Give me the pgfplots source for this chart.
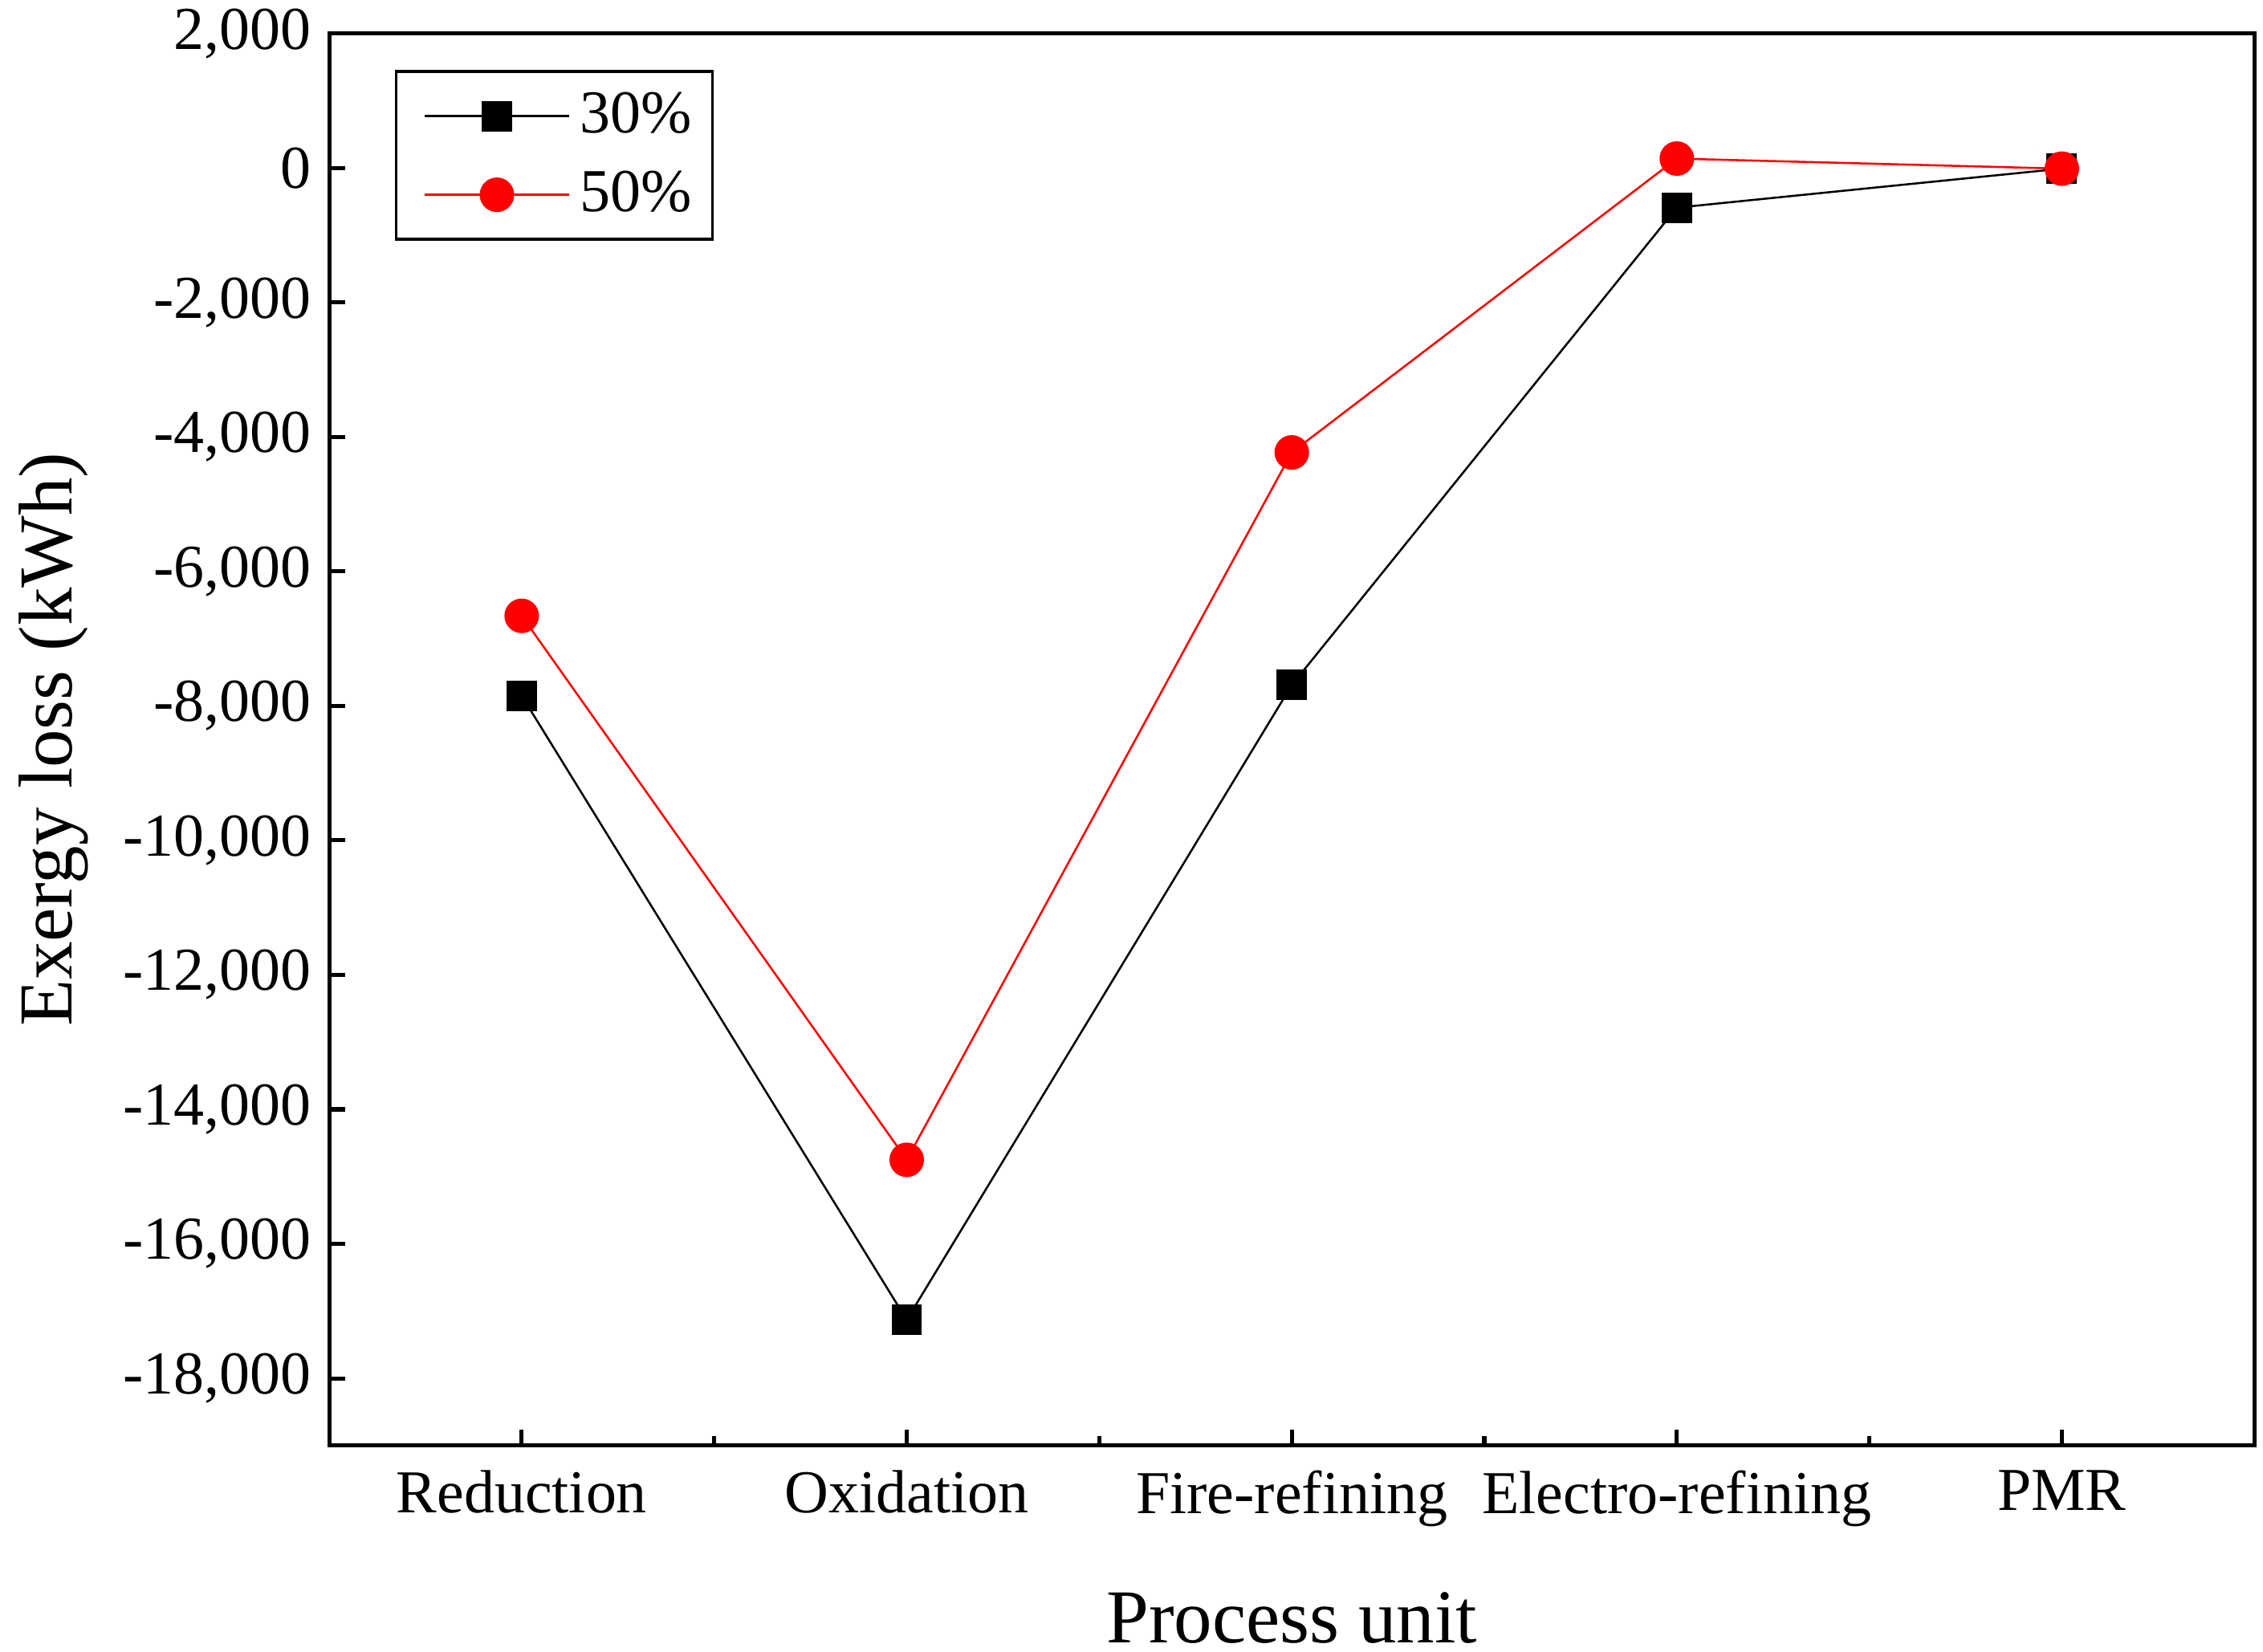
\documentclass[border=0pt]{standalone}
\usepackage{pgfplots}
\pgfplotsset{compat=1.18}
\usepackage{fontspec}
\setmainfont{Liberation Serif}

\pgfplotstableread{
x  y30     y50
0  -7850   -6660
1  -17130  -14750
2  -7690   -4230
3  -590    140
4  -10     -10
}\exergy

\begin{document}
\begin{tikzpicture}
  \begin{axis}[
      name=main,
      scale only axis,
      width=379pt, height=278pt,
      xmin=-0.5, xmax=4.5,
      ymin=-19000, ymax=2000,
      xtick={0,1,2,3,4},
      xticklabels={Reduction, Oxidation, Fire-refining, Electro-refining, PMR},
      minor xtick={0.5,1.5,2.5,3.5},
      ytick={-18000,-16000,...,2000},
      scaled y ticks=false,
      tick align=inside,
      xtick pos=bottom, ytick pos=left,
      major tick length=3.2pt, minor tick length=1.8pt,
      every tick/.style={black, line width=0.8pt},
      axis line style={line width=0.8pt},
      tick label style={font=\fontsize{12}{14}\selectfont},
      xticklabel style={yshift=-1.4pt},
      /pgf/number format/.cd, 1000 sep={,}, assume math mode=true,
      /pgfplots/.cd,
      xlabel={Process unit}, ylabel={Exergy loss (kWh)},
      label style={font=\fontsize{15}{18}\selectfont},
      xlabel style={yshift=-6pt},
      legend style={at={(0.034,0.974)}, anchor=north west, draw=black,
        line width=0.6pt, font=\fontsize{12}{14}\selectfont,
        inner xsep=2pt, inner ysep=2pt, row sep=2pt},
      legend cell align=left,
      legend image code/.code={
        \path (0cm,0cm);
        \draw[#1] (0.12cm,0cm) -- (1.12cm,0cm);
        \draw[#1, only marks] plot coordinates {(0.62cm,0cm)};
      },
    ]
    \addplot[black, line width=0.4pt, mark=square*, mark size=2.8pt,
      mark options={solid, fill=black}] table[x=x, y=y30] {\exergy};
    \addlegendentry{30\%}
    \addplot[red, line width=0.4pt, mark=*, mark size=3.2pt,
      mark options={solid, fill=red}] table[x=x, y=y50] {\exergy};
    \addlegendentry{50\%}
  \end{axis}
  \pgfresetboundingbox
  \path[use as bounding box] ([xshift=-64.8pt, yshift=-40.6pt]main.south west)
    rectangle ([xshift=1.7pt, yshift=6.6pt]main.north east);
\end{tikzpicture}
\end{document}
